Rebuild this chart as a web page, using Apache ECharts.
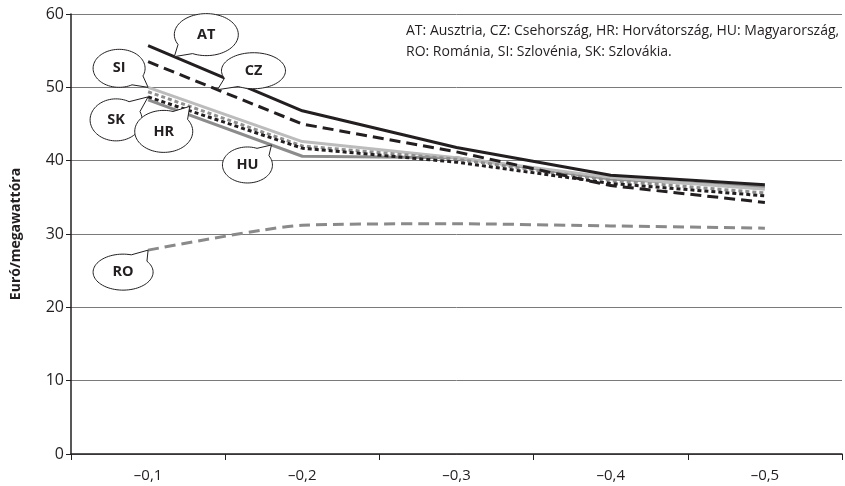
<!DOCTYPE html>
<html>
<head>
<meta charset="utf-8">
<script src="https://cdn.jsdelivr.net/npm/echarts@6/dist/echarts.min.js"></script>
<style>
html,body{margin:0;padding:0;background:#fff;}
#c{width:845px;height:486px;}
</style>
</head>
<body>
<div id="c"></div>
<script>
// ---- data ----
const categories = ['–0,1', '–0,2', '–0,3', '–0,4', '–0,5'];
const AT = [55.7, 46.8, 41.8, 38.0, 36.7];
const CZ = [53.5, 45.0, 41.2, 36.6, 34.3];
const SI = [50.0, 42.6, 40.4, 37.7, 36.1];
const HR = [49.4, 42.0, 40.2, 37.3, 35.6];
const SK = [48.7, 41.7, 39.8, 36.9, 35.2];
const HU = [48.3, 40.6, 40.4, 37.5, 36.4];
const RO = [27.8, 31.2, 31.4, 31.1, 30.8];
const yTicks = [0, 10, 20, 30, 40, 50, 60];
const yTitle = 'Euró/megawattóra';
const noteLines = ['AT: Ausztria, CZ: Csehország, HR: Horvátország, HU: Magyarország,', 'RO: Románia, SI: Szlovénia, SK: Szlovákia.'];

const FONT = '"Open Sans", "Noto Sans", sans-serif';

const seriesDefs = [
  {name: 'RO', data: RO, color: '#8a8a8a', type: [11, 6], smooth: 0.2},
  {name: 'HU', data: HU, color: '#8c8c8c', type: 'solid'},
  {name: 'SI', data: SI, color: '#bcbcbc', type: 'solid'},
  {name: 'HR', data: HR, color: '#8f8f8f', type: [4, 3]},
  {name: 'SK', data: SK, color: '#231f20', type: [4, 3]},
  {name: 'CZ', data: CZ, color: '#231f20', type: [11, 6]},
  {name: 'AT', data: AT, color: '#231f20', type: 'solid'}
];

// callout styling: anchor fraction along first segment, bubble offset and radii
const callouts = [
  {name: 'AT', t: 0.17, dx: 32, dy: -22, rx: 32, ry: 21},
  {name: 'CZ', t: 0.45, dx: 36, dy: -19, rx: 32, ry: 18},
  {name: 'SI', t: 0.0, dx: -29, dy: -19, rx: 26, ry: 19},
  {name: 'SK', t: 0.0, dx: -32, dy: 23, rx: 26, ry: 21},
  {name: 'HR', t: 0.27, dx: -26, dy: 25, rx: 29, ry: 21},
  {name: 'HU', t: 0.8, dx: -24, dy: 20, rx: 25, ry: 18},
  {name: 'RO', t: 0.0, dx: -25, dy: 22, rx: 30, ry: 18}
];

const chart = echarts.init(document.getElementById('c'), null, {renderer: 'canvas'});

const option = {
  animation: false,
  backgroundColor: '#fff',
  grid: {left: 71, right: 3, top: 14, bottom: 32, containLabel: false},
  xAxis: {
    type: 'category',
    data: categories,
    boundaryGap: true,
    axisLine: {lineStyle: {color: '#231f20', width: 1.5}},
    axisTick: {show: true, length: 6, lineStyle: {color: '#231f20', width: 1}},
    axisLabel: {color: '#231f20', fontFamily: FONT, fontSize: 15, margin: 14},
    splitLine: {show: false}
  },
  yAxis: {
    type: 'value',
    min: yTicks[0],
    max: yTicks[yTicks.length - 1],
    interval: 10,
    name: yTitle,
    nameLocation: 'middle',
    nameGap: 48,
    nameTextStyle: {color: '#231f20', fontFamily: FONT, fontSize: 14, fontWeight: 'bold'},
    axisLine: {show: true, lineStyle: {color: '#231f20', width: 1.5}},
    axisTick: {show: true, length: 5, lineStyle: {color: '#231f20', width: 1}},
    axisLabel: {color: '#231f20', fontFamily: FONT, fontSize: 16, margin: 7},
    splitLine: {show: true, lineStyle: {color: '#7a7a7a', width: 1}}
  },
  series: seriesDefs.map(s => ({
    name: s.name,
    type: 'line',
    data: s.data,
    smooth: s.smooth || false,
    symbol: 'none',
    lineStyle: {color: s.color, width: 3, type: s.type},
    z: 3
  }))
};
chart.setOption(option);

function bubble(cx, cy, rx, ry, tx, ty) {
  const th = Math.atan2((ty - cy) / ry, (tx - cx) / rx);
  const d = 0.32;
  const pts = [];
  const n = 72;
  for (let i = 0; i <= n; i++) {
    const a = th + d + (2 * Math.PI - 2 * d) * i / n;
    pts.push([cx + rx * Math.cos(a), cy + ry * Math.sin(a)]);
  }
  pts.push([tx, ty]);
  return pts;
}

const graphics = [];
callouts.forEach(c => {
  const s = seriesDefs.find(d => d.name === c.name);
  const p0 = chart.convertToPixel({xAxisIndex: 0, yAxisIndex: 0}, [0, s.data[0]]);
  const p1 = chart.convertToPixel({xAxisIndex: 0, yAxisIndex: 0}, [1, s.data[1]]);
  const tx = p0[0] + (p1[0] - p0[0]) * c.t;
  const ty = p0[1] + (p1[1] - p0[1]) * c.t;
  const cx = tx + c.dx, cy = ty + c.dy;
  graphics.push({
    type: 'polygon',
    shape: {points: bubble(cx, cy, c.rx, c.ry, tx, ty)},
    style: {fill: '#fff', stroke: '#231f20', lineWidth: 1},
    z: 100
  });
  graphics.push({
    type: 'text',
    x: cx, y: cy,
    style: {text: c.name, fill: '#231f20', font: 'bold 14.5px ' + FONT, textAlign: 'center', textVerticalAlign: 'middle'},
    z: 101
  });
});
graphics.push({
  type: 'text',
  x: 406, y: 21,
  style: {text: noteLines.join('\n'), fill: '#231f20', font: '14px ' + FONT, lineHeight: 21, textAlign: 'left', textVerticalAlign: 'top'},
  z: 101
});
chart.setOption({graphic: graphics});
</script>
</body>
</html>
